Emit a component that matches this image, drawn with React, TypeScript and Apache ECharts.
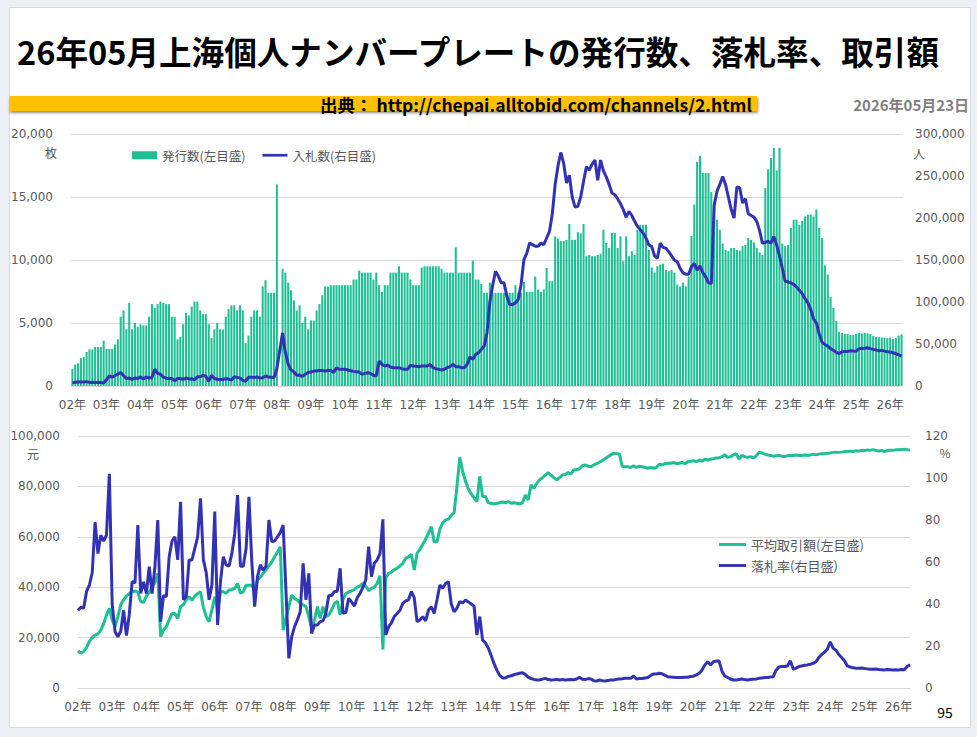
import React, { useEffect, useRef } from "react";
import * as echarts from "echarts";

// ---- categories: monthly from 2002/01 to 2026/05 ----
const startYear = 2002;
const endYear = 2026;
const endMonth = 5;
const months: string[] = [];
for (let y = startYear; y <= endYear; y++) {
  for (let m = 1; m <= 12; m++) {
    if (y === endYear && m > endMonth) break;
    months.push(`${y}/${m < 10 ? "0" + m : m}`);
  }
}

// 発行数 (枚) — left axis of the upper chart
const issued: (number | null)[] = [
  1370, 1700, 1800, 2200, 2300, 2700, 2900, 2900, 3100, 3100, 3100, 3600, // 2002
  2950, 2950, 2950, 3300, 3700, 5500, 6000, 4500, 6600, 4500, 5000, 4700, // 2003
  4900, 4800, 4800, 5500, 6500, 6200, 6500, 6700, 6600, 6500, 6500, 5500, // 2004
  5500, 3700, 3900, 4900, 5800, 5600, 6300, 6700, 6700, 6000, 5700, 5700, // 2005
  4900, 3800, 4500, 5000, 4500, 4500, 5500, 6100, 6400, 6400, 6000, 6400, // 2006
  6000, 3400, 4000, 5500, 6000, 6000, 5500, 7900, 8400, 7400, 7400, 7400, // 2007
  16000, null, 9300, 9000, 8200, 7600, 6800, 6000, 6400, 5000, 5500, 4500, // 2008
  5200, 5200, 6000, 6500, 7200, 7900, 7900, 8000, 8000, 8000, 8000, 8000, // 2009
  8000, 8000, 8000, 8450, 8450, 9160, 9000, 9000, 9000, 9000, 8450, 9000, // 2010
  8000, 7470, 8000, 8000, 9000, 9000, 9000, 9500, 9000, 9000, 9000, 8450, // 2011
  8000, 8000, 8000, 9400, 9500, 9500, 9500, 9500, 9500, 9500, 9300, 9000, // 2012
  9000, 9000, 9000, 11000, 9000, 9000, 9000, 9000, 9000, 9950, 8450, 8450, // 2013
  8100, 7400, 7400, 8200, 7400, 7400, 7400, 7400, 7400, 7400, 7400, 7400, // 2014
  8000, 7400, 7400, 8260, 7470, 7470, 7470, 8700, 7660, 7470, 7660, 9370, // 2015
  8320, 8320, 11880, 11700, 11500, 11500, 11600, 12860, 11600, 11600, 12200, 12100, // 2016
  12860, 10300, 10400, 10300, 10300, 10400, 10500, 12400, 11350, 10950, 12150, 12150, // 2017
  10950, 11880, 9900, 11880, 10300, 10690, 10400, 12400, 12800, 12800, 12800, 10800, // 2018
  9400, 9000, 9500, 9640, 9700, 9200, 9100, 9200, 9000, 8050, 7900, 8200, // 2019
  7900, 8700, 11900, 14400, 17800, 18270, 16900, 16900, 16900, 15400, 14500, 13200, // 2020
  12400, 11300, 10800, 10700, 10950, 10950, 10800, 10750, 11090, 11200, 11750, 11600, // 2021
  11400, 10950, 10600, 10400, 15700, 17200, 18100, 18900, 17100, 18900, 11300, 11100, // 2022
  11200, 12540, 13200, 13200, 12800, 13100, 13460, 13600, 13600, 13460, 14000, 12540, // 2023
  11750, 9580, 8850, 7080, 6200, 5150, 4300, 4220, 4130, 4130, 4050, 4050, // 2024
  4130, 4220, 4180, 4220, 4180, 4130, 3960, 3880, 3880, 3850, 3830, 3800, // 2025
  3850, 3720, 3800, 4000, 4100, // 2026
];

// 入札数 (人) — right axis of the upper chart
const bidders: (number | null)[] = [
  3700, 4400, 4700, 4800, 4700, 5200, 4300, 4500, 4300, 4400, 4300, 3500,
  7400, 11900, 10500, 12500, 14000, 16000, 12500, 9000, 9500, 8000, 9500, 9000,
  10900, 8300, 10700, 9500, 10000, 20000, 15000, 14000, 10600, 9300, 9000, 9000,
  6200, 8800, 9000, 8000, 9500, 8400, 8750, 7400, 11000, 11000, 12700, 11600,
  5800, 12700, 8900, 8000, 7700, 7800, 8600, 8300, 7000, 11000, 10300, 9600,
  6600, 5700, 10300, 10400, 10200, 10700, 9500, 9900, 12000, 10600, 10300, 10000,
  20600, null, 63000, 39600, 26000, 19000, 17000, 12700, 13000, 11500, 14000, 16000,
  16600, 17800, 17800, 18500, 18500, 17800, 18500, 18600, 16000, 21800, 19800, 19800,
  19800, 19000, 18200, 17400, 17000, 16600, 13900, 15000, 15800, 15000, 12700, 11900,
  29700, 25700, 23800, 24900, 22600, 21800, 21800, 21800, 20600, 19800, 19800, 24500,
  23800, 23400, 23000, 23800, 23800, 23800, 25700, 21800, 20600, 19800, 19000, 20000,
  21800, 23000, 25700, 23000, 23000, 21800, 21800, 25700, 34800, 31700, 37600, 39600,
  43600, 47500, 63400, 100000, 120000, 136600, 131000, 122800, 122800, 106900, 97000, 97000,
  99000, 103000, 120800, 150500, 158000, 170300, 168300, 166300, 166300, 170300, 168300, 176200,
  184000, 205000, 240000, 262000, 278000, 265000, 241600, 251000, 225000, 213000, 214000, 225000,
  243500, 261000, 257000, 264000, 269000, 245000, 269000, 256000, 249000, 240000, 229700, 227700,
  223000, 217000, 210000, 201000, 208000, 203000, 196000, 190000, 186000, 182000, 176000, 168000,
  166000, 155000, 152000, 170000, 165000, 164000, 160000, 155000, 150000, 148000, 140000, 135000,
  133000, 133000, 142000, 146000, 138000, 143000, 135000, 130000, 122800, 122000, 215000, 232000,
  240000, 249500, 240000, 225000, 210000, 200000, 237000, 236000, 218000, 223000, 205000, 203000,
  201000, 196000, 185000, 170000, 171000, 172300, 170000, 178000, 168000, 155000, 140000, 124700,
  124000, 122800, 121000, 118000, 114000, 110000, 104000, 99000, 91000, 80000, 75000, 62000,
  52000, 49500, 47500, 44500, 42500, 40000, 38500, 40800, 41000, 41200, 42000, 41600,
  41500, 44400, 44700, 45000, 45500, 44500, 43600, 43000, 42000, 42400, 41500, 40800,
  40500, 39600, 38400, 37000, 35600,
];

// 平均取引額 (元) — left axis of the lower chart
const avgPrice: (number | null)[] = [
  14700, 13900, 14500, 16000, 18500, 20000, 21000, 21500, 23000, 25500, 29000, 31600,
  27000, 24300, 28300, 33000, 35000, 36500, 37500, 38200, 38500, 38000, 34300, 34000,
  36500, 38000, 40000, 42000, 45500, 20400, 23000, 24300, 27000, 29600, 29600, 27600,
  32300, 33000, 35000, 36200, 34800, 36500, 37500, 38200, 32000, 28300, 26300, 31000,
  36200, 31000, 38200, 38200, 37600, 38900, 39000, 39500, 41500, 37600, 38200, 40800,
  40800, 40800, 38900, 42900, 44000, 45500, 46800, 48500, 50000, 52100, 54000, 56000,
  23000, null, 32300, 36900, 35500, 34900, 33600, 33000, 32300, 28300, 23700, 27000,
  32300, 27600, 32300, 28300, 29000, 31000, 33500, 34500, 29000, 35000, 37500, 38000,
  38500, 39000, 40000, 40500, 41500, 40500, 38600, 39500, 40000, 41500, 44500, 15300,
  43500, 45500, 46000, 47000, 47500, 48500, 49500, 51500, 52100, 53000, 46800, 53500,
  55000, 57000, 59000, 61500, 64000, 58000, 58000, 63000, 65500, 66700, 67000, 68500,
  69500, 80000, 91500, 86000, 82000, 79000, 77000, 75500, 74000, 84000, 76000, 76000,
  73500, 73300, 73000, 73300, 73500, 73800, 73500, 74000, 73300, 73500, 73300, 73000,
  73500, 76600, 74600, 80600, 79200, 81200, 82600, 83500, 84500, 85500, 84500, 83500,
  82600, 83500, 84500, 84700, 85500, 85000, 86500, 86700, 87000, 88200, 88500, 88000,
  87800, 88500, 89000, 89600, 90200, 91000, 91800, 92500, 93100, 93000, 92900, 88000,
  87800, 87800, 87500, 88200, 87500, 88000, 87800, 87500, 87200, 87500, 87200, 87500,
  88800, 88500, 89000, 89200, 89200, 89500, 89000, 89200, 89500, 89000, 89800, 90000,
  90200, 89800, 90500, 90000, 90800, 90500, 90800, 91000, 91300, 91300, 91800, 92500,
  91500, 91800, 92500, 93000, 90800, 92300, 91800, 91500, 91800, 91300, 92000, 93500,
  93300, 92800, 92500, 92300, 92000, 92200, 92300, 92000, 91800, 92200, 92300, 92300,
  92500, 92300, 92300, 92500, 92300, 92500, 92800, 92500, 92800, 93000, 93000, 93200,
  93300, 93500, 93600, 93500, 93600, 93800, 93800, 94000, 93800, 94100, 94000, 94300,
  94200, 94500, 94300, 94600, 94300, 94000, 94300, 93800, 94200, 94300, 94300, 94500,
  94500, 94600, 94800, 94600, 94400,
];

// 落札率 (%) — right axis of the lower chart
const winRate: (number | null)[] = [
  37, 38.5, 38, 46, 49, 55, 79, 64, 72.8, 70, 72.8, 102,
  40, 26.8, 24.4, 27, 37, 25, 35, 50.6, 50, 77.6, 45, 50.6,
  45, 57.8, 45, 57.8, 80, 31.6, 44, 43.5, 62.5, 70, 72, 61,
  88.7, 42, 43.5, 61, 61, 66.5, 72, 90.3, 61, 55, 42, 49,
  84, 30, 50.6, 62.5, 58.6, 58, 64, 73.6, 91.9, 58, 58, 66.5,
  91, 60, 38.7, 53, 58.6, 56, 58, 80, 69.7, 70, 72, 74,
  77.6, null, 14.1, 24.4, 29.2, 32.4, 36.3, 59.4, 42, 54.6, 26, 30,
  30, 31.6, 32, 35.5, 44, 44, 46, 46, 57, 35.5, 36, 42.7,
  41, 39, 43, 45, 48, 51.4, 67.3, 53, 59.4, 61, 64, 80.3,
  25.2, 29.2, 31, 34, 35.5, 37, 40.3, 41.5, 42, 45.9, 43, 31.6,
  32.4, 34, 32, 37.1, 38.7, 35.5, 42, 49, 47.5, 49.8, 50.6, 40,
  36.3, 38, 41.1, 40.5, 41.9, 41, 40, 39, 25.2, 34, 22.8, 21.5,
  19, 15.5, 11.7, 8.5, 6, 4.8, 4.8, 5.5, 5.8, 6.3, 6.7, 7,
  7.3, 6.5, 5.2, 4.5, 4.1, 3.8, 3.8, 4.2, 4.6, 4.0, 3.8, 3.9,
  4.1, 3.8, 4.0, 3.8, 3.9, 4.0, 3.9, 4.3, 5.1, 4.2, 4.0, 4.5,
  4.3, 3.5, 3.3, 3.8, 3.5, 3.3, 3.6, 3.8, 3.8, 4.1, 4.3, 4.4,
  4.6, 4.6, 4.6, 5.7, 4.3, 4.5, 4.5, 4.8, 5.0, 6.0, 6.7, 6.7,
  7, 6.8, 6.0, 5.4, 5.2, 5.1, 5.0, 5.0, 5.0, 5.1, 5.1, 5.5,
  5.6, 6.2, 7, 8.5, 11, 12.5, 11, 12.5, 12.8, 12.8, 8, 5.7,
  5, 4.3, 3.8, 3.8, 4.0, 4.3, 4.0, 3.8, 4.0, 4.2, 4.3, 4.6,
  4.8, 5.0, 5.0, 5.2, 5.4, 8.5, 10, 10.2, 10.2, 10.5, 13, 9,
  9.5, 10.2, 10.5, 10.8, 11.0, 11.3, 11.7, 12.5, 14.5, 16, 17, 18.5,
  22, 19, 18, 16, 14.5, 13, 10.5, 10, 9.6, 9.4, 9.4, 9.5,
  9.3, 9.1, 8.9, 8.9, 9, 8.8, 8.7, 8.6, 8.8, 8.7, 8.6, 8.7,
  8.6, 8.8, 8.7, 10.2, 11,
];

const titleText = "26年05月上海個人ナンバープレートの発行数、落札率、取引額";
const sourceText = "出典： http://chepai.alltobid.com/channels/2.html";
const dateText = "2026年05月23日";
const pageNo = "95";

const GREEN = "#1dbf93";
const BLUE = "#3232b4";
const GRID = "#d9d9d9";
const LABEL = "#595959";
const FONT = "'Noto Sans CJK JP', 'Noto Sans', sans-serif";
const AXFONT = "'DejaVu Sans', 'Noto Sans CJK JP', sans-serif";
const LINE_ICON = "path://M0,0 L28,0 L28,3 L0,3 Z";

const fmt = (v: number) => v.toLocaleString("en-US");
const yearLabel = (v: string) => v.slice(2, 4) + "年";
const isJan = (i: number) => i % 12 === 0;

export default function App() {
  const ref = useRef<HTMLDivElement>(null);
  useEffect(() => {
    if (!ref.current) return;
    const chart = echarts.init(ref.current, undefined, { renderer: "svg" });
    const xCommon = {
      type: "category" as const,
      data: months,
      axisTick: { show: false },
      axisLine: { lineStyle: { color: GRID } },
      axisLabel: {
        interval: (i: number) => isJan(i),
        formatter: yearLabel,
        color: LABEL,
        fontSize: 12,
        margin: 13,
        fontFamily: AXFONT,
      },
    };
    const yLabel = (margin: number, withFmt: boolean) => ({
      ...(withFmt ? { formatter: fmt } : {}),
      color: LABEL, fontSize: 12, margin, fontFamily: AXFONT,
    });
    const option: any = {
      animation: false,
      textStyle: { fontFamily: FONT },
      grid: [
        { left: 71, top: 134, width: 832, height: 252 },
        { left: 78, top: 436, width: 832, height: 252 },
      ],
      xAxis: [
        { ...xCommon, gridIndex: 0, boundaryGap: true },
        { ...xCommon, gridIndex: 1, boundaryGap: false },
      ],
      yAxis: [
        {
          gridIndex: 0, type: "value", min: 0, max: 20000, interval: 5000, position: "left",
          axisLine: { show: false }, axisTick: { show: false },
          axisLabel: yLabel(18, true),
          splitLine: { lineStyle: { color: GRID } },
        },
        {
          gridIndex: 0, type: "value", min: 0, max: 300000, interval: 50000, position: "right",
          axisLine: { show: false }, axisTick: { show: false },
          axisLabel: yLabel(12, true),
          splitLine: { show: false },
        },
        {
          gridIndex: 1, type: "value", min: 0, max: 100000, interval: 20000, position: "left",
          axisLine: { show: false }, axisTick: { show: false },
          axisLabel: yLabel(18, true),
          splitLine: { lineStyle: { color: GRID } },
        },
        {
          gridIndex: 1, type: "value", min: 0, max: 120, interval: 20, position: "right",
          axisLine: { show: false }, axisTick: { show: false },
          axisLabel: yLabel(15, false),
          splitLine: { show: false },
        },
      ],
      legend: [
        {
          left: 132, top: 149, padding: 0, itemWidth: 25, itemHeight: 8, itemGap: 17,
          textStyle: { color: LABEL, fontSize: 12.5, fontFamily: FONT },
          data: [
            { name: "発行数(左目盛)", icon: "rect" },
            { name: "入札数(右目盛)", icon: LINE_ICON },
          ],
        },
        {
          left: 719, top: 538, padding: 0, orient: "vertical", itemWidth: 27, itemHeight: 8, itemGap: 8,
          textStyle: { color: LABEL, fontSize: 13, fontFamily: FONT },
          data: [
            { name: "平均取引額(左目盛)", icon: LINE_ICON },
            { name: "落札率(右目盛)", icon: LINE_ICON },
          ],
        },
      ],
      series: [
        {
          name: "発行数(左目盛)", type: "bar", xAxisIndex: 0, yAxisIndex: 0,
          data: issued, barCategoryGap: "28%", itemStyle: { color: GREEN },
        },
        {
          name: "入札数(右目盛)", type: "line", xAxisIndex: 0, yAxisIndex: 1,
          data: bidders, symbol: "none", connectNulls: true,
          lineStyle: { color: BLUE, width: 3 }, itemStyle: { color: BLUE },
        },
        {
          name: "平均取引額(左目盛)", type: "line", xAxisIndex: 1, yAxisIndex: 2,
          data: avgPrice, symbol: "none", connectNulls: true,
          lineStyle: { color: GREEN, width: 3 }, itemStyle: { color: GREEN },
        },
        {
          name: "落札率(右目盛)", type: "line", xAxisIndex: 1, yAxisIndex: 3,
          data: winRate, symbol: "none", connectNulls: true,
          lineStyle: { color: BLUE, width: 3 }, itemStyle: { color: BLUE },
        },
      ],
      graphic: {
        elements: [
          {
            type: "text", x: 17, y: 50,
            style: {
              text: titleText, fill: "#000", fontSize: 32.6, fontWeight: "bold", fontFamily: FONT,
              align: "left", verticalAlign: "middle", textAlign: "left", textVerticalAlign: "middle",
            },
          },
          {
            type: "rect", shape: { x: 9, y: 96, width: 748, height: 15 },
            style: { fill: "#ffc000", shadowBlur: 3, shadowOffsetY: 2, shadowOffsetX: 1, shadowColor: "rgba(0,0,0,0.45)" },
          },
          {
            type: "text", x: 752, y: 104,
            style: {
              text: sourceText, fill: "#000", fontSize: 17.5, fontWeight: "bold", fontFamily: FONT,
              align: "right", verticalAlign: "middle", textAlign: "right", textVerticalAlign: "middle",
            },
          },
          {
            type: "text", x: 969, y: 104,
            style: {
              text: dateText, fill: "#7f7f7f", fontSize: 15, fontWeight: "bold", fontFamily: FONT,
              align: "right", verticalAlign: "middle", textAlign: "right", textVerticalAlign: "middle",
            },
          },
          ...[
            ["枚", 51, 152],
            ["人", 919, 153],
            ["元", 33, 453],
            ["%", 945, 452],
          ].map(([t, x, y]) => ({
            type: "text", x, y,
            style: {
              text: t, fill: LABEL, fontSize: 12, fontFamily: FONT,
              align: "center", verticalAlign: "middle", textAlign: "center", textVerticalAlign: "middle",
            },
          })),
          {
            type: "text", x: 945, y: 712,
            style: {
              text: pageNo, fill: "#000", fontSize: 14, fontFamily: FONT,
              align: "center", verticalAlign: "middle", textAlign: "center", textVerticalAlign: "middle",
            },
          },
        ],
      },
    };
    chart.setOption(option);
    return () => chart.dispose();
  }, []);

  return (
    <div style={{ position: "fixed", left: 0, top: 0, width: 977, height: 737, background: "#eceff3" }}>
      <div
        style={{
          position: "absolute", left: 9, top: 7, width: 960, height: 719,
          background: "#ffffff", border: "1px solid #d8dce1",
        }}
      />
      <div ref={ref} style={{ position: "absolute", left: 0, top: 0, width: 977, height: 737 }} />
    </div>
  );
}
